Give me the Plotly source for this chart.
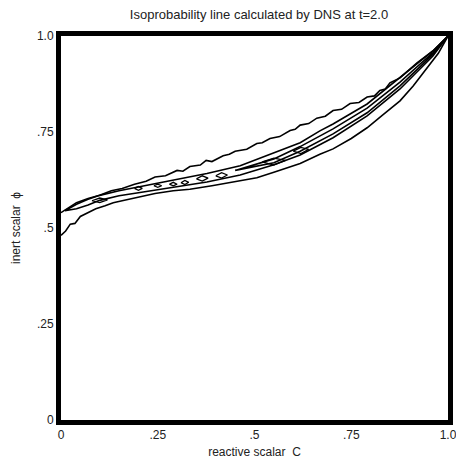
import plotly.graph_objects as go

# Outer isoprobability contour (upper and lower branches)
outer_upper_c = [0.0, 0.02, 0.04, 0.07, 0.10, 0.13, 0.158, 0.19, 0.22, 0.243, 0.27, 0.30, 0.315, 0.333, 0.36,
                 0.375, 0.39, 0.419, 0.435, 0.45, 0.48, 0.506, 0.52, 0.54, 0.565, 0.592, 0.605, 0.618, 0.64,
                 0.661, 0.683, 0.703, 0.725, 0.747, 0.77, 0.791, 0.81, 0.824, 0.838, 0.850, 0.876, 0.92, 0.961, 1.0]
outer_upper_phi = [0.540, 0.553, 0.566, 0.577, 0.585, 0.597, 0.603, 0.614, 0.622, 0.633, 0.636, 0.650, 0.648,
                   0.660, 0.664, 0.676, 0.673, 0.688, 0.692, 0.700, 0.705, 0.720, 0.722, 0.733, 0.738, 0.754,
                   0.757, 0.768, 0.772, 0.786, 0.791, 0.806, 0.809, 0.824, 0.827, 0.841, 0.844, 0.858, 0.862,
                   0.878, 0.891, 0.930, 0.961, 1.0]
outer_lower_c = [0.0, 0.012, 0.024, 0.036, 0.05, 0.070, 0.09, 0.114, 0.135, 0.158, 0.2, 0.243, 0.29, 0.333,
                 0.39, 0.419, 0.463, 0.506, 0.55, 0.592, 0.618, 0.669, 0.703, 0.75, 0.791, 0.83, 0.876, 0.91,
                 0.946, 0.975, 1.0]
outer_lower_phi = [0.481, 0.492, 0.510, 0.512, 0.530, 0.540, 0.550, 0.558, 0.566, 0.571, 0.581, 0.590, 0.597,
                   0.601, 0.610, 0.615, 0.622, 0.631, 0.645, 0.660, 0.668, 0.692, 0.706, 0.733, 0.761, 0.793,
                   0.831, 0.870, 0.917, 0.955, 1.0]

# Middle contour (closed loop)
middle_c = [0.01, 0.04, 0.07, 0.10, 0.15, 0.20, 0.25, 0.30, 0.377, 0.463, 0.548, 0.618, 0.669, 0.703, 0.791,
            0.876, 0.961, 1.0,
            0.961, 0.876, 0.791, 0.703, 0.618, 0.548, 0.463, 0.377, 0.30, 0.20, 0.15, 0.10, 0.07, 0.04, 0.01]
middle_phi = [0.545, 0.562, 0.575, 0.585, 0.597, 0.607, 0.617, 0.626, 0.642, 0.662, 0.694, 0.722, 0.753, 0.771,
              0.823, 0.891, 0.961, 1.0,
              0.948, 0.862, 0.792, 0.735, 0.690, 0.664, 0.638, 0.620, 0.607, 0.592, 0.584, 0.572, 0.560,
              0.550, 0.545]

# Inner contour (thin band toward the upper right corner)
inner_c = [0.45, 0.55, 0.618, 0.703, 0.791, 0.876, 0.961, 1.0,
           0.961, 0.876, 0.791, 0.703, 0.618, 0.55, 0.45]
inner_phi = [0.650, 0.680, 0.712, 0.758, 0.812, 0.880, 0.957, 1.0,
             0.952, 0.870, 0.800, 0.745, 0.700, 0.670, 0.650]

# Small isolated high-probability islands
island_c = [[0.19, 0.20, 0.21, 0.20, 0.19], [0.24, 0.25, 0.26, 0.25, 0.24], [0.28, 0.29, 0.30, 0.29, 0.28],
            [0.31, 0.32, 0.33, 0.32, 0.31], [0.35, 0.365, 0.38, 0.365, 0.35], [0.40, 0.415, 0.43, 0.415, 0.40],
            [0.08, 0.10, 0.12, 0.10, 0.08], [0.52, 0.55, 0.58, 0.55, 0.52], [0.60, 0.62, 0.64, 0.62, 0.60]]
island_phi = [[0.603, 0.608, 0.603, 0.598, 0.603], [0.610, 0.614, 0.610, 0.606, 0.610],
              [0.614, 0.619, 0.614, 0.610, 0.614], [0.618, 0.624, 0.619, 0.613, 0.618],
              [0.628, 0.636, 0.630, 0.622, 0.628], [0.636, 0.644, 0.638, 0.630, 0.636],
              [0.571, 0.578, 0.573, 0.566, 0.571], [0.672, 0.682, 0.676, 0.664, 0.672],
              [0.700, 0.710, 0.705, 0.694, 0.700]]

x_ticks = [0, 0.25, 0.5, 0.75, 1.0]
x_ticktext = ["0", ".25", ".5", ".75", "1.0"]
y_ticks = [0, 0.25, 0.5, 0.75, 1.0]
y_ticktext = ["0", ".25", ".5", ".75", "1.0"]

line_style = dict(color="black", width=1.6)
fig = go.Figure()
fig.add_trace(go.Scatter(x=outer_upper_c, y=outer_upper_phi, mode="lines", line=line_style, showlegend=False))
fig.add_trace(go.Scatter(x=outer_lower_c, y=outer_lower_phi, mode="lines", line=line_style, showlegend=False))
fig.add_trace(go.Scatter(x=middle_c, y=middle_phi, mode="lines", line=line_style, showlegend=False))
fig.add_trace(go.Scatter(x=inner_c, y=inner_phi, mode="lines", line=line_style, showlegend=False))
for xs, ys in zip(island_c, island_phi):
    fig.add_trace(go.Scatter(x=xs, y=ys, mode="lines", line=dict(color="black", width=1.3), showlegend=False))

font = dict(family="Liberation Sans, Arial, sans-serif", size=12, color="#222")
axis_common = dict(range=[0, 1], showgrid=False, zeroline=False, showline=True, linecolor="black",
                   linewidth=5, mirror=True, ticks="", tickfont=font, automargin=False,
                   ticklabeloverflow="allow")
fig.update_layout(
    width=456, height=464,
    margin=dict(l=61, r=8, t=36, b=44),
    paper_bgcolor="white", plot_bgcolor="white",
    font=font,
    title=dict(text="Isoprobability line calculated by DNS at t=2.0", x=0.568, xanchor="center",
               y=0.968, yanchor="middle", font=dict(family="Liberation Sans, Arial, sans-serif", size=13, color="#222")),
    xaxis=dict(axis_common, tickvals=x_ticks, ticktext=x_ticktext,
               title=dict(text="reactive scalar  C", standoff=8, font=font)),
    yaxis=dict(axis_common, tickvals=y_ticks, ticktext=y_ticktext,
               title=dict(text="inert scalar  ϕ", standoff=15, font=font)),
)
fig.write_html("out.html")
